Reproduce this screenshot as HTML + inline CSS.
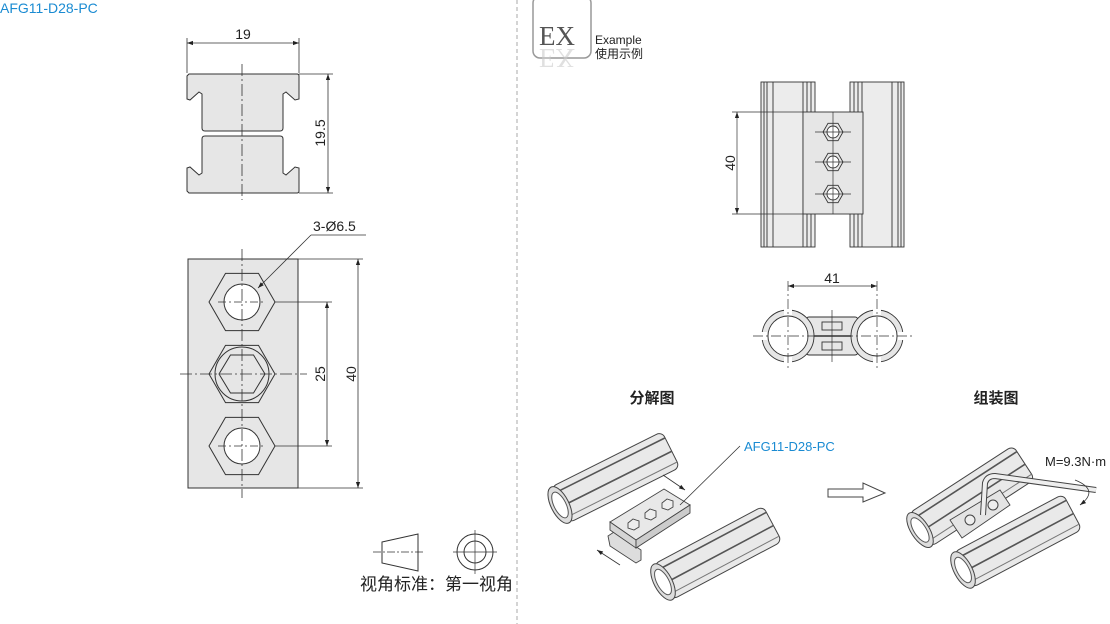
<!DOCTYPE html>
<html><head><meta charset="utf-8"><style>
html,body{margin:0;padding:0;background:#fff;width:1110px;height:624px;overflow:hidden}
svg{display:block}
text{font-family:"Liberation Sans","Noto Sans CJK SC",sans-serif}
</style></head><body>
<svg width="1110" height="624" viewBox="0 0 1110 624" xmlns="http://www.w3.org/2000/svg">
<defs>
<marker id="a" viewBox="0 0 10 10" refX="10" refY="5" markerWidth="9" markerHeight="6" orient="auto-start-reverse" markerUnits="userSpaceOnUse"><path d="M0,1.5 L10,5 L0,8.5 Z" fill="#222"/></marker>
<g id="tube">
 <rect x="0" y="-20" width="124" height="40" rx="6" fill="#e9e9e9" stroke="#444" stroke-width="1"/>
 <line x1="4" y1="-13" x2="124" y2="-13" stroke="#555" stroke-width="1.6"/>
 <line x1="4" y1="2" x2="124" y2="2" stroke="#555" stroke-width="1.6"/>
 <line x1="4" y1="14" x2="124" y2="14" stroke="#777" stroke-width="1"/>
 <ellipse cx="0" cy="0" rx="9" ry="20" fill="#ddd" stroke="#444"/>
 <ellipse cx="0" cy="0" rx="6" ry="14" fill="#fff" stroke="#555"/>
</g>
</defs>

<text x="0" y="13" font-size="14" fill="#1a8bd2">AFG11-D28-PC</text>
<line x1="517" y1="0" x2="517" y2="624" stroke="#aaa" stroke-dasharray="4,3"/>

<!-- top profile -->
<g stroke="#333" stroke-width="1" fill="#e6e6e6">
<path d="M189,74 L297,74 Q299,74 299,76 L299,99 L295,100 L286,92 L283,94 L283,128 Q283,131 280,131 L205,131 Q202,131 202,128 L202,94 L199,92 L190,100 L187,99 L187,76 Z"/>
<path d="M189,193 L297,193 Q299,193 299,191 L299,168 L295,167 L286,175 L283,173 L283,139 Q283,136 280,136 L205,136 Q202,136 202,139 L202,173 L199,175 L190,167 L187,168 L187,191 Z"/>
</g>
<g stroke="#333" stroke-width="0.8" fill="none">
<line x1="242" y1="64" x2="242" y2="200" stroke-dasharray="12,3,2,3"/>
<line x1="187" y1="38" x2="187" y2="73"/><line x1="299" y1="38" x2="299" y2="73"/>
<line x1="187" y1="43" x2="299" y2="43" marker-start="url(#a)" marker-end="url(#a)"/>
<line x1="299" y1="74" x2="333" y2="74"/><line x1="299" y1="193" x2="333" y2="193"/>
<line x1="328" y1="74" x2="328" y2="193" marker-start="url(#a)" marker-end="url(#a)"/>
</g>
<text x="243" y="39" font-size="14" text-anchor="middle" fill="#222">19</text>
<text transform="translate(325,133) rotate(-90)" font-size="14" text-anchor="middle" fill="#222">19.5</text>

<!-- front plate -->
<rect x="188" y="259" width="110" height="229" fill="#e6e6e6" stroke="#333"/>
<g stroke="#333" stroke-width="1" fill="none">
<polygon points="209,302 225.5,273.4 258.5,273.4 275,302 258.5,330.6 225.5,330.6"/>
<circle cx="242" cy="302" r="18" fill="#fff"/>
<polygon points="209,374 225.5,345.4 258.5,345.4 275,374 258.5,402.6 225.5,402.6"/>
<circle cx="242" cy="374" r="27"/>
<polygon points="219,374 230.5,355 253.5,355 265,374 253.5,393 230.5,393"/>
<polygon points="209,446 225.5,417.4 258.5,417.4 275,446 258.5,474.6 225.5,474.6"/>
<circle cx="242" cy="446" r="18" fill="#fff"/>
</g>
<g stroke="#333" stroke-width="0.8" fill="none">
<line x1="242" y1="249" x2="242" y2="498" stroke-dasharray="12,3,2,3"/>
<line x1="180" y1="374" x2="307" y2="374" stroke-dasharray="12,3,2,3"/>
<line x1="218" y1="302" x2="266" y2="302" stroke-dasharray="8,3,2,3"/><line x1="275" y1="302" x2="332" y2="302"/>
<line x1="218" y1="446" x2="266" y2="446" stroke-dasharray="8,3,2,3"/><line x1="275" y1="446" x2="332" y2="446"/>
<line x1="327" y1="302" x2="327" y2="446" marker-start="url(#a)" marker-end="url(#a)"/>
<line x1="298" y1="259" x2="363" y2="259"/><line x1="298" y1="488" x2="363" y2="488"/>
<line x1="358" y1="259" x2="358" y2="488" marker-start="url(#a)" marker-end="url(#a)"/>
<line x1="311" y1="235" x2="366" y2="235"/>
<line x1="311" y1="235" x2="258" y2="288" marker-end="url(#a)"/>
</g>
<text x="313" y="231" font-size="14" fill="#222">3-Ø6.5</text>
<text transform="translate(325,374) rotate(-90)" font-size="14" text-anchor="middle" fill="#222">25</text>
<text transform="translate(356,374) rotate(-90)" font-size="14" text-anchor="middle" fill="#222">40</text>

<!-- projection symbol -->
<g stroke="#333" stroke-width="1" fill="none">
<polygon points="382,542 418,534 418,571 382,563"/>
<line x1="373" y1="552" x2="424" y2="552" stroke-dasharray="8,2,2,2" stroke-width="0.7"/>
<circle cx="475" cy="552" r="18"/><circle cx="475" cy="552" r="11"/>
<line x1="475" y1="530" x2="475" y2="574" stroke-width="0.7"/><line x1="453" y1="552" x2="497" y2="552" stroke-width="0.7"/>
</g>
<text x="360" y="590" font-size="17" fill="#222">视角标准：第一视角</text>

<!-- EX icon -->
<rect x="533" y="-4" width="58" height="62" rx="7" fill="#fff" stroke="#999" stroke-width="1.5"/>
<text x="539" y="45" style="font-family:'Liberation Serif',serif" font-size="27" fill="#555">EX</text>
<text x="539" y="49" style="font-family:'Liberation Serif',serif" font-size="27" fill="#ccc" transform="translate(0,98) scale(1,-1)" opacity="0.6">EX</text>
<text x="595" y="44" font-size="12" fill="#222">Example</text>
<text x="595" y="58" font-size="12" fill="#222">使用示例</text>

<!-- right top view -->
<g stroke="#333" stroke-width="0.9">
<rect x="761" y="82" width="54" height="165" fill="#ececec"/>
<rect x="850" y="82" width="54" height="165" fill="#ececec"/>
<g fill="none">
<line x1="764" y1="82" x2="764" y2="247"/><line x1="767" y1="82" x2="767" y2="247"/><line x1="773" y1="82" x2="773" y2="247"/>
<line x1="803" y1="82" x2="803" y2="247"/><line x1="807" y1="82" x2="807" y2="247"/><line x1="811" y1="82" x2="811" y2="247"/>
<line x1="854" y1="82" x2="854" y2="247"/><line x1="858" y1="82" x2="858" y2="247"/><line x1="862" y1="82" x2="862" y2="247"/>
<line x1="892" y1="82" x2="892" y2="247"/><line x1="898" y1="82" x2="898" y2="247"/><line x1="901" y1="82" x2="901" y2="247"/>
</g>
<rect x="803" y="112" width="60" height="102" fill="#e6e6e6"/>
<g fill="#e6e6e6">
<polygon points="823,132 828,123.3 838,123.3 843,132 838,140.7 828,140.7"/>
<polygon points="823,162 828,153.3 838,153.3 843,162 838,170.7 828,170.7"/>
<polygon points="823,194 828,185.3 838,185.3 843,194 838,202.7 828,202.7"/>
</g>
<g fill="#fff"><circle cx="833" cy="132" r="6"/><circle cx="833" cy="162" r="6"/><circle cx="833" cy="194" r="6"/></g>
</g>
<g stroke="#333" stroke-width="0.7" fill="none">
<line x1="833" y1="112" x2="833" y2="214"/>
<line x1="815" y1="132" x2="851" y2="132"/><line x1="815" y1="162" x2="851" y2="162"/><line x1="815" y1="194" x2="851" y2="194"/>
<line x1="732" y1="112" x2="803" y2="112"/><line x1="732" y1="214" x2="803" y2="214"/>
<line x1="737" y1="112" x2="737" y2="214" marker-start="url(#a)" marker-end="url(#a)"/>
</g>
<text transform="translate(735,163) rotate(-90)" font-size="14" text-anchor="middle" fill="#222">40</text>

<!-- section view -->
<g stroke="#333" stroke-width="0.9">
<rect x="806" y="317" width="52" height="38" rx="3" fill="#e6e6e6"/>
<circle cx="788" cy="336" r="26" fill="#e6e6e6"/>
<circle cx="877" cy="336" r="26" fill="#e6e6e6"/>
<circle cx="788" cy="336" r="20" fill="#fff"/>
<circle cx="877" cy="336" r="20" fill="#fff"/>
<g fill="#fff" stroke="none">
<rect x="759" y="332" width="8" height="8"/><rect x="784" y="307" width="8" height="8"/><rect x="784" y="357" width="8" height="8"/>
<rect x="898" y="332" width="8" height="8"/><rect x="873" y="307" width="8" height="8"/><rect x="873" y="357" width="8" height="8"/>
</g>
<line x1="814" y1="336" x2="851" y2="336" stroke-width="1.5"/>
<rect x="822" y="322" width="20" height="8" fill="none"/><rect x="822" y="342" width="20" height="8" fill="none"/>
</g>
<g stroke="#333" stroke-width="0.7" fill="none">
<line x1="753" y1="336" x2="912" y2="336" stroke-dasharray="10,3,2,3"/>
<line x1="788" y1="281" x2="788" y2="368" stroke-dasharray="10,3,2,3"/>
<line x1="877" y1="281" x2="877" y2="368" stroke-dasharray="10,3,2,3"/>
<line x1="832" y1="310" x2="832" y2="362"/>
<line x1="788" y1="286" x2="877" y2="286" marker-start="url(#a)" marker-end="url(#a)"/>
</g>
<text x="832" y="283" font-size="14" text-anchor="middle" fill="#222">41</text>

<text x="652" y="403" font-size="15" font-weight="bold" text-anchor="middle" fill="#222">分解图</text>
<text x="996" y="403" font-size="15" font-weight="bold" text-anchor="middle" fill="#222">组装图</text>

<!-- exploded -->
<use href="#tube" transform="translate(560,505) rotate(-26.6)"/>
<use href="#tube" transform="translate(663,582) rotate(-28)"/>
<g stroke="#444" stroke-width="0.9">
<polygon points="608,536 614,532 641,550 641,560 636,563 610,546" fill="#ddd"/>
<polygon points="610,522 664,489 690,505 636,540" fill="#e8e8e8"/>
<polygon points="610,522 636,540 636,548 610,530" fill="#d5d5d5"/>
<polygon points="636,540 690,505 690,513 636,548" fill="#ccc"/>
<g fill="#eee"><polygon points="628,523 633,519 639,521 639,527 634,530 628,528"/><polygon points="645,513 650,509 656,511 656,517 651,520 645,518"/><polygon points="662,503 667,499 673,501 673,507 668,510 662,508"/></g>
</g>
<g stroke="#333" stroke-width="0.8" fill="none">
<line x1="663" y1="475" x2="685" y2="490" marker-end="url(#a)"/>
<line x1="620" y1="565" x2="597" y2="550" marker-end="url(#a)"/>
<line x1="740" y1="446" x2="680" y2="505"/>
</g>
<text x="744" y="451" font-size="13" fill="#1a8bd2">AFG11-D28-PC</text>

<polygon points="828,489 863,489 863,483 885,493 863,502 863,497 828,497" fill="#fff" stroke="#444"/>

<!-- assembled -->
<use href="#tube" transform="translate(920,530) rotate(-33)"/>
<polygon points="950,520 1000,490 1010,505 962,538" fill="#e4e4e4" stroke="#444" stroke-width="0.9"/>
<circle cx="970" cy="520" r="5" fill="#eee" stroke="#444"/><circle cx="993" cy="505" r="5" fill="#eee" stroke="#444"/>
<use href="#tube" transform="translate(963,570) rotate(-28)"/>
<path d="M983,515 L985,483 Q987,476 995,476 L1096,490" fill="none" stroke="#444" stroke-width="6"/>
<path d="M983,515 L985,483 Q987,476 995,476 L1096,490" fill="none" stroke="#eee" stroke-width="4"/>
<path d="M1075,480 Q1100,490 1080,505" fill="none" stroke="#333" stroke-width="0.8" marker-end="url(#a)"/>
<text x="1045" y="466" font-size="13" fill="#222">M=9.3N·m</text>
</svg>
</body></html>
